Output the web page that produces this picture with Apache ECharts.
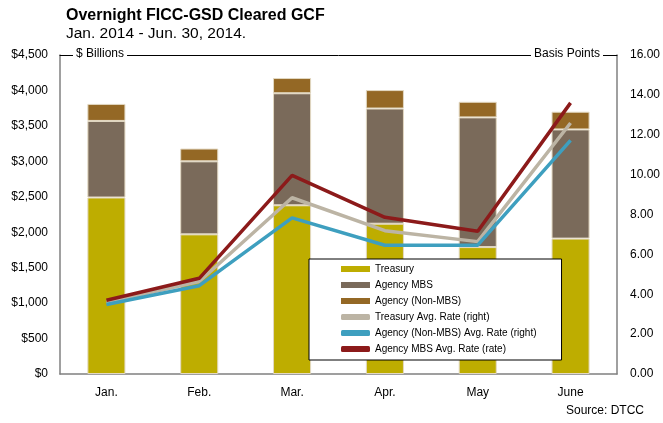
<!DOCTYPE html>
<html>
<head>
<meta charset="utf-8">
<script src="https://cdn.jsdelivr.net/npm/echarts@6/dist/echarts.min.js"></script>
<style>
  html, body { margin: 0; padding: 0; background: #fff; }
  #chart { width: 663px; height: 423px; }
</style>
</head>
<body>
<div id="chart"></div>
<script>
const FONT = "Liberation Sans, Arial, sans-serif";

const months = ["Jan.", "Feb.", "Mar.", "Apr.", "May", "June"];

// $ billions, stacked
const treasury = [2490, 1970, 2380, 2120, 1790, 1910];
const agencyMbs = [1080, 1030, 1580, 1625, 1830, 1540];
const agencyNonMbs = [240, 180, 215, 260, 220, 250];

// basis points (right axis)
const treasuryRate = [3.6, 4.64, 8.84, 7.19, 6.64, 12.59];
const agencyNonMbsRate = [3.49, 4.43, 7.83, 6.46, 6.46, 11.72];
const agencyMbsRate = [3.7, 4.8, 9.96, 7.86, 7.16, 13.6];

const leftTicks = { min: 0, max: 4500, interval: 500 };
const rightTicks = { min: 0, max: 16, interval: 2 };

const COLORS = {
  treasury: "#bead00",
  mbs: "#7a6a5a",
  nonMbs: "#946825",
  tRate: "#bcb4a4",
  nRate: "#3e9fbf",
  mRate: "#8c1a1a",
};

const GRID = { left: 60, right: 45, top: 55, bottom: 49 };

const chart = echarts.init(document.getElementById("chart"), null, { renderer: "canvas" });

function barSeries(name, data, color) {
  return {
    name,
    type: "bar",
    stack: "total",
    data,
    barWidth: "41%",
    itemStyle: { color, borderColor: "#e3d9c3", borderWidth: 1 },
    emphasis: { disabled: true },
  };
}

function lineSeries(name, data, color) {
  return {
    name,
    type: "line",
    yAxisIndex: 1,
    data,
    symbol: "none",
    lineStyle: { color, width: 3.5 },
    itemStyle: { color },
    z: 5,
  };
}

chart.setOption({
  animation: false,
  textStyle: { fontFamily: FONT },
  title: {
    text: "Overnight FICC-GSD Cleared GCF",
    subtext: "Jan. 2014 - Jun. 30, 2014.",
    left: 61,
    top: 3,
    itemGap: 2,
    textStyle: { fontFamily: FONT, fontSize: 16, fontWeight: "bold", color: "#000" },
    subtextStyle: { fontFamily: FONT, fontSize: 15.5, color: "#000" },
  },
  grid: GRID,
  legend: {
    orient: "vertical",
    left: 309,
    top: 259,
    padding: [4, 25, 5, 32],
    itemGap: 4,
    itemWidth: 29,
    itemHeight: 6,
    backgroundColor: "#fff",
    borderColor: "#000",
    borderWidth: 1,
    itemStyle: { borderWidth: 0 },
    textStyle: { fontFamily: FONT, fontSize: 10, color: "#000", lineHeight: 12 },
    data: [
      { name: "Treasury", icon: "rect" },
      { name: "Agency MBS", icon: "rect" },
      { name: "Agency (Non-MBS)", icon: "rect" },
      { name: "Treasury Avg. Rate (right)", icon: "roundRect" },
      { name: "Agency (Non-MBS) Avg. Rate (right)", icon: "roundRect" },
      { name: "Agency MBS Avg. Rate (rate)", icon: "roundRect" },
    ],
  },
  xAxis: [
    {
      type: "category",
      data: months,
      axisLine: { lineStyle: { color: "#808080", width: 1.5 } },
      axisTick: { show: false },
      axisLabel: { color: "#000", fontSize: 12, margin: 13, fontFamily: FONT },
    },
    {
      type: "category",
      position: "top",
      data: months,
      axisLine: { show: true, onZero: false, lineStyle: { color: "#000", width: 1 } },
      axisTick: { show: false },
      axisLabel: { show: false },
    },
  ],
  yAxis: [
    {
      type: "value",
      ...leftTicks,
      axisLine: { show: true, onZero: false, lineStyle: { color: "#808080", width: 1.5 } },
      axisTick: { show: false },
      splitLine: { show: false },
      axisLabel: {
        color: "#000",
        fontSize: 12,
        margin: 12,
        fontFamily: FONT,
        formatter: (v) => "$" + v.toLocaleString("en-US"),
      },
    },
    {
      type: "value",
      ...rightTicks,
      position: "right",
      axisLine: { show: true, onZero: false, lineStyle: { color: "#808080", width: 1.5 } },
      axisTick: { show: false },
      splitLine: { show: false },
      axisLabel: {
        color: "#000",
        fontSize: 12,
        margin: 13,
        fontFamily: FONT,
        formatter: (v) => v.toFixed(2),
      },
    },
  ],
  series: [
    barSeries("Treasury", treasury, COLORS.treasury),
    barSeries("Agency MBS", agencyMbs, COLORS.mbs),
    barSeries("Agency (Non-MBS)", agencyNonMbs, COLORS.nonMbs),
    lineSeries("Treasury Avg. Rate (right)", treasuryRate, COLORS.tRate),
    lineSeries("Agency (Non-MBS) Avg. Rate (right)", agencyNonMbsRate, COLORS.nRate),
    lineSeries("Agency MBS Avg. Rate (rate)", agencyMbsRate, COLORS.mRate),
  ],
  graphic: [
    {
      type: "text",
      left: 73,
      top: 48,
      z: 10,
      style: {
        text: "$ Billions",
        font: "12px " + FONT,
        fill: "#000",
        backgroundColor: "#fff",
        padding: [0, 3, 0, 3],
      },
    },
    {
      type: "text",
      right: 663 - 603,
      top: 48,
      z: 10,
      style: {
        text: "Basis Points",
        font: "12px " + FONT,
        fill: "#000",
        backgroundColor: "#fff",
        padding: [0, 3, 0, 3],
      },
    },
    {
      type: "text",
      right: 663 - 644,
      top: 405,
      style: { text: "Source: DTCC", font: "12px " + FONT, fill: "#000" },
    },
  ],
});
</script>
</body>
</html>
